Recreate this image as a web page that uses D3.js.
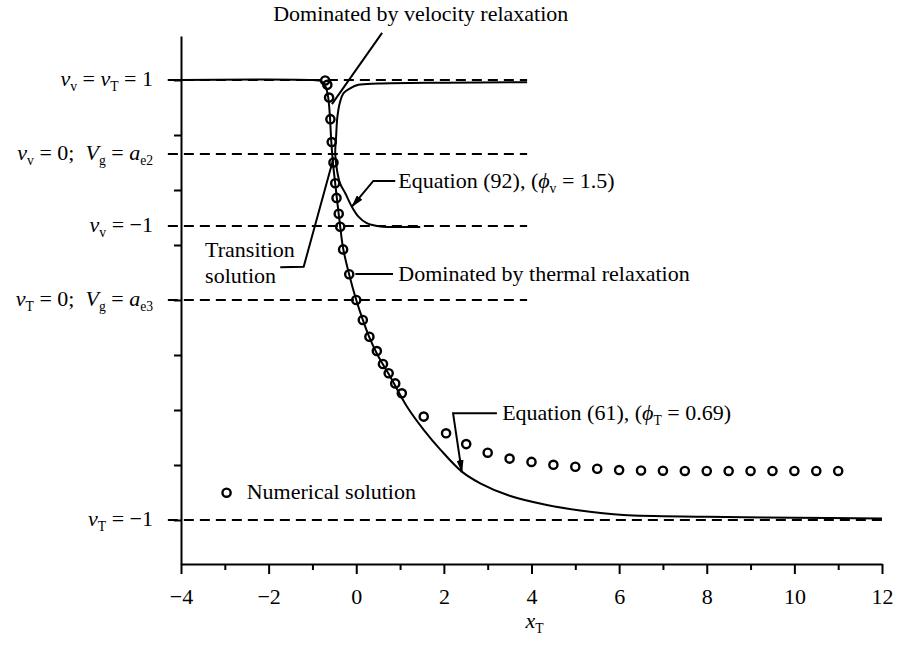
<!DOCTYPE html>
<meta charset="utf-8">
<style>
  body { margin: 0; background: #fff; }
  svg text { white-space: pre; fill: #000; font-family: "Liberation Serif", "DejaVu Serif", serif; }
</style>
<div id="chart"></div>
<script src="https://cdn.jsdelivr.net/npm/d3@7"></script>
<script>
  // numerical solution (open circles), x_T vs v_T
  const numX = [-0.71, -0.66, -0.62, -0.59, -0.56, -0.52, -0.48, -0.45, -0.4, -0.366, -0.3, -0.16, 0,
    0.15, 0.3, 0.47, 0.61, 0.74, 0.89, 1.04, 1.54, 2.05, 2.51,
    3, 3.5, 4, 4.5, 5, 5.5, 6, 6.5, 7, 7.5, 8, 8.5, 9, 9.5, 10, 10.5, 11];
  const numY = [0.998, 0.978, 0.92, 0.822, 0.718, 0.625, 0.531, 0.464, 0.392, 0.333, 0.23, 0.117, 0,
    -0.091, -0.167, -0.232, -0.291, -0.333, -0.379, -0.424, -0.53, -0.606, -0.655,
    -0.694, -0.721, -0.736, -0.749, -0.758, -0.767, -0.773, -0.775, -0.776, -0.777, -0.777, -0.777, -0.777, -0.777, -0.777, -0.777, -0.777];

  // thermal relaxation curve, Equation (61)
  const thermX = [-4.3, -1.0, -0.8, -0.7, -0.64, -0.6, -0.57, -0.53, -0.48, -0.43, -0.37, -0.3, -0.16, 0,
    0.15, 0.3, 0.45, 0.6, 0.78, 1.16, 1.54, 1.92, 2.41, 2.83, 3.5, 4.35, 5.11, 6.1, 8, 10, 12];
  const thermY = [1.0, 1.0, 0.995, 0.97, 0.92, 0.83, 0.72, 0.62, 0.53, 0.44, 0.34, 0.235, 0.115, 0,
    -0.09, -0.17, -0.235, -0.29, -0.35, -0.485, -0.59, -0.68, -0.78, -0.833, -0.89, -0.932, -0.957, -0.977, -0.985, -0.99, -0.993];

  // velocity relaxation curve, Equation (92)
  const velX = [3.9, 2.0, 0.5, 0.05, -0.14, -0.29, -0.37, -0.43, -0.46, -0.48, -0.44, -0.37, -0.25, -0.1, 0.05, 0.24, 0.55, 1.0, 1.46];
  const velY = [0.99, 0.988, 0.984, 0.978, 0.962, 0.94, 0.9, 0.833, 0.742, 0.667, 0.591, 0.53, 0.485, 0.424, 0.379, 0.349, 0.334, 0.332, 0.332];

  // dashed reference levels (in v_T units) and where they stop
  const refLevels = [1, 0.664, 0.336, 0, -1];
  const refEnds = [3.9, 3.9, 3.9, 3.9, 12];

  const xTickValues = [-4, -2, 0, 2, 4, 6, 8, 10, 12];
  const xMinorTicks = [-3, -1, 1, 3, 5, 7, 9, 11];
  const yTickValues = [-1, -0.75, -0.5, -0.25, 0, 0.25, 0.5, 0.75, 1];

  // level labels: [text, style] parts, i = italic, s = subscript
  const levelLabels = [
    { y: 1, parts: [["v", "i"], ["v", "s"], [" = "], ["v", "i"], ["T", "s"], [" = 1"]] },
    { y: 0.664, parts: [["v", "i"], ["v", "s"], [" = 0;  "], ["V", "i"], ["g", "s"], [" = "], ["a", "i"], ["e2", "s"]] },
    { y: 0.336, parts: [["v", "i"], ["v", "s"], [" = −1"]] },
    { y: 0, parts: [["v", "i"], ["T", "s"], [" = 0;  "], ["V", "i"], ["g", "s"], [" = "], ["a", "i"], ["e3", "s"]] },
    { y: -1, parts: [["v", "i"], ["T", "s"], [" = −1"]] },
  ];

  // annotation leaders (data coords)
  const velLeader = [[0.59, 1.214], [-0.555, 0.89]];
  const transLeader = [[-0.52, 0.644], [-1.2, 0.151], [-1.735, 0.149]];
  const thermLeader = [[-0.02, 0.118], [0.84, 0.118]];
  const eq92Leader = [[0.89, 0.541], [0.39, 0.541], [-0.1, 0.424]];
  const eq61Leader = [[3.21, -0.515], [2.21, -0.515], [2.41, -0.782]];

  const width = 897, height = 649;
  const font = "Liberation Serif";
  const svg = d3.select("#chart").append("svg")
    .attr("width", width).attr("height", height)
    .attr("font-family", font);

  const x = d3.scaleLinear().domain([-4, 12]).range([181, 882]);
  const y = d3.scaleLinear().domain([-1.2, 1.2]).range([564, 36]);

  svg.append("defs").append("marker")
    .attr("id", "arrow")
    .attr("markerUnits", "userSpaceOnUse")
    .attr("markerWidth", 13).attr("markerHeight", 7)
    .attr("refX", 12).attr("refY", 3.5)
    .attr("orient", "auto")
    .append("path").attr("d", "M0,0L13,3.5L0,7Z").attr("fill", "#000");

  // AXES
  const xAxis = svg.append("g")
    .attr("transform", "translate(0," + y(-1.2) + ")")
    .call(d3.axisBottom(x).tickValues(xTickValues).tickSize(10).tickSizeOuter(0).tickPadding(14));
  xAxis.attr("font-family", font).attr("font-size", 22);
  xAxis.select(".domain").attr("stroke-width", 2);
  xAxis.selectAll(".tick line").attr("stroke-width", 2);
  xAxis.selectAll(".tick text").attr("font-size", 22).attr("font-family", font);

  svg.append("g")
    .attr("transform", "translate(0," + y(-1.2) + ")")
    .call(d3.axisBottom(x).tickValues(xMinorTicks).tickSize(6).tickFormat(""))
    .call(g => g.select(".domain").remove())
    .selectAll(".tick line").attr("stroke-width", 2);

  const yAxis = svg.append("g")
    .attr("transform", "translate(" + x(-4) + ",0)")
    .call(d3.axisLeft(y).tickValues(yTickValues).tickSize(7).tickSizeOuter(0).tickFormat(""));
  yAxis.select(".domain").attr("stroke-width", 2);
  yAxis.selectAll(".tick line").attr("stroke-width", 2);

  function richText(sel, parts, fs) {
    let shifted = false;
    sel.attr("font-family", font);
    parts.forEach(p => {
      const t = sel.append("tspan").text(p[0]);
      if (p[1] === "i") t.style("font-style", "italic");
      if (p[1] === "s") {
        t.attr("font-size", fs * 0.62);
        if (!shifted) { t.attr("dy", 5); shifted = true; }
      } else if (shifted) {
        t.attr("dy", -5); shifted = false;
      }
    });
    return sel;
  }

  // level labels
  levelLabels.forEach(l => {
    const t = svg.append("text")
      .attr("x", x(-4) - 28)
      .attr("y", y(l.y) + 6)
      .attr("text-anchor", "end")
      .attr("font-size", 22);
    richText(t, l.parts, 22);
  });

  // dashed levels
  svg.append("g").selectAll("line")
    .data(refLevels)
    .join("line")
    .attr("x1", x(-4.3))
    .attr("x2", (d, i) => x(refEnds[i]))
    .attr("y1", d => y(d))
    .attr("y2", d => y(d))
    .attr("stroke", "#000")
    .attr("stroke-width", 2)
    .attr("stroke-dasharray", "10,6");

  // CURVES
  const line = d3.line().x(d => x(d[0])).y(d => y(d[1])).curve(d3.curveCatmullRom.alpha(0.5));
  svg.append("path")
    .attr("d", line(thermX.map((v, i) => [v, thermY[i]])))
    .attr("fill", "none").attr("stroke", "#000").attr("stroke-width", 2);
  svg.append("path")
    .attr("d", line(velX.map((v, i) => [v, velY[i]])))
    .attr("fill", "none").attr("stroke", "#000").attr("stroke-width", 2);

  // numerical circles
  svg.append("g").selectAll("circle")
    .data(numX.map((v, i) => [v, numY[i]]))
    .join("circle")
    .attr("cx", d => x(d[0]))
    .attr("cy", d => y(d[1]))
    .attr("r", 4.1)
    .attr("fill", "none")
    .attr("stroke", "#000")
    .attr("stroke-width", 2.4);

  // LEADERS
  const straight = d3.line().x(d => x(d[0])).y(d => y(d[1]));
  [velLeader, transLeader, thermLeader].forEach(l => {
    svg.append("path").attr("d", straight(l))
      .attr("fill", "none").attr("stroke", "#000").attr("stroke-width", 2);
  });
  [eq92Leader, eq61Leader].forEach(l => {
    svg.append("path").attr("d", straight(l))
      .attr("fill", "none").attr("stroke", "#000").attr("stroke-width", 2)
      .attr("marker-end", "url(#arrow)");
  });

  // ANNOTATION TEXT
  const fs = 22;
  svg.append("text").attr("x", x(-1.895)).attr("y", y(1.268)).attr("font-size", fs)
    .attr("font-family", font).text("Dominated by velocity relaxation");
  richText(svg.append("text").attr("x", x(0.96)).attr("y", y(0.509)).attr("font-size", fs),
    [["Equation (92), ("], ["ϕ", "i"], ["v", "s"], [" = 1.5)"]], fs);
  svg.append("text").attr("x", x(-3.45)).attr("y", y(0.195)).attr("font-size", fs)
    .attr("font-family", font).text("Transition");
  svg.append("text").attr("x", x(-3.45)).attr("y", y(0.077)).attr("font-size", fs)
    .attr("font-family", font).text("solution");
  svg.append("text").attr("x", x(0.96)).attr("y", y(0.086)).attr("font-size", fs)
    .attr("font-family", font).text("Dominated by thermal relaxation");
  richText(svg.append("text").attr("x", x(3.33)).attr("y", y(-0.545)).attr("font-size", fs),
    [["Equation (61), ("], ["ϕ", "i"], ["T", "s"], [" = 0.69)"]], fs);

  // legend
  svg.append("circle").attr("cx", x(-2.96)).attr("cy", y(-0.876)).attr("r", 4.1)
    .attr("fill", "none").attr("stroke", "#000").attr("stroke-width", 2.4);
  svg.append("text").attr("x", x(-2.5)).attr("y", y(-0.905)).attr("font-size", fs)
    .attr("font-family", font).text("Numerical solution");

  // x label
  richText(svg.append("text").attr("x", (x(-4) + x(12)) / 2 - 6).attr("y", 628).attr("font-size", fs),
    [["x", "i"], ["T", "s"]], fs);
</script>
